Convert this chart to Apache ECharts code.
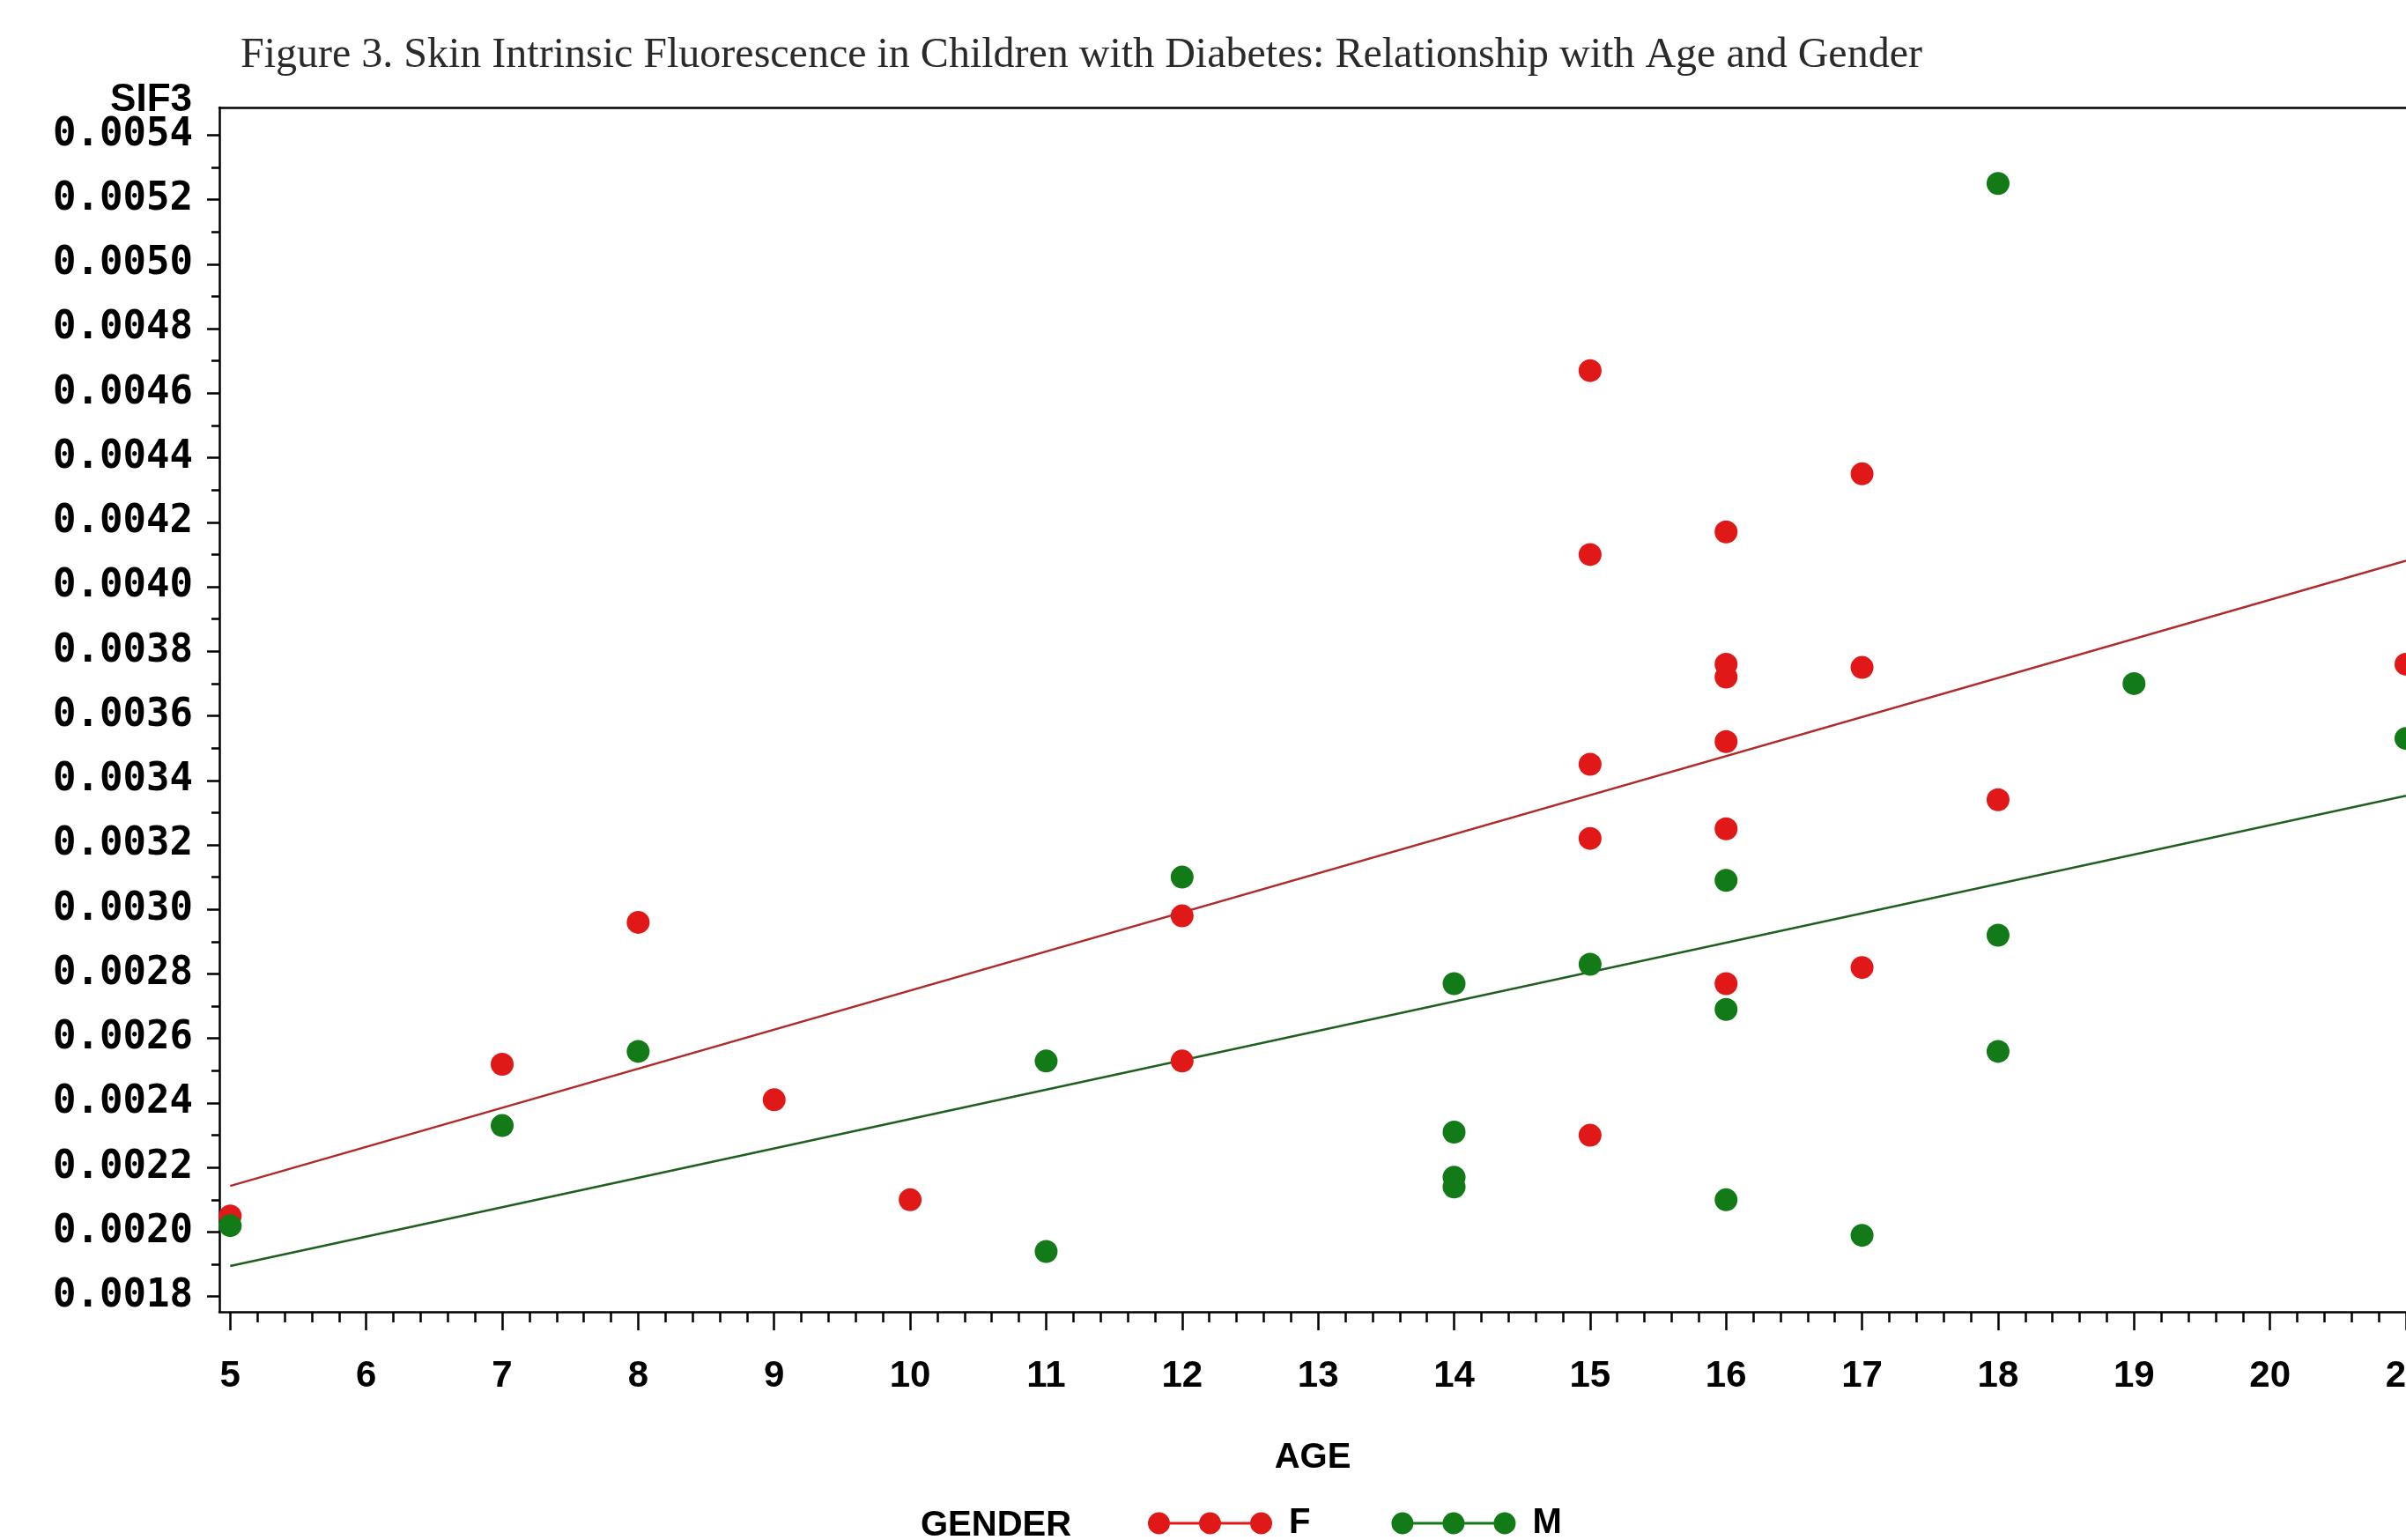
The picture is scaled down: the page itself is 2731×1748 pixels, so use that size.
<!DOCTYPE html>
<html>
<head>
<meta charset="utf-8">
<script src="https://cdn.jsdelivr.net/npm/echarts@6/dist/echarts.min.js"></script>
<style>
html,body{margin:0;padding:0;background:#fff;overflow:hidden;width:2731px;height:1748px;}
#chart{position:absolute;left:0;top:0;width:2731px;height:1748px;}
</style>
</head>
<body>
<div id="chart"></div>
<script>
// ---- data ----
const titleText = 'Figure 3. Skin Intrinsic Fluorescence in Children with Diabetes: Relationship with Age and Gender';
const ageTicks = [5,6,7,8,9,10,11,12,13,14,15,16,17,18,19,20,21];
const sifTicks = [0.0018,0.0020,0.0022,0.0024,0.0026,0.0028,0.0030,0.0032,0.0034,0.0036,0.0038,0.0040,0.0042,0.0044,0.0046,0.0048,0.0050,0.0052,0.0054];

const femaleAge = [5, 7, 8, 9, 10, 12, 12, 15, 15, 15, 15, 15, 16, 16, 16, 16, 16, 16, 17, 17, 17, 18, 21];
const femaleSif = [0.00205, 0.00252, 0.00296, 0.00241, 0.00210, 0.00298, 0.00253, 0.00467, 0.00410, 0.00345, 0.00322, 0.00230, 0.00417, 0.00376, 0.00372, 0.00352, 0.00325, 0.00277, 0.00435, 0.00375, 0.00282, 0.00334, 0.00376];

const maleAge = [5, 7, 8, 11, 11, 12, 14, 14, 14, 14, 15, 16, 16, 16, 17, 18, 18, 18, 19, 21];
const maleSif = [0.00202, 0.00233, 0.00256, 0.00253, 0.00194, 0.00310, 0.00277, 0.00231, 0.00217, 0.00214, 0.00283, 0.00309, 0.00269, 0.00210, 0.00199, 0.00525, 0.00292, 0.00256, 0.00370, 0.00353];

const femaleFitAge = [5, 21];
const femaleFitSif = [0.002143, 0.004081];
const maleFitAge = [5, 21];
const maleFitSif = [0.001895, 0.003352];

// ---- build ----
const pairs = (xs, ys) => xs.map((x, i) => [x, ys[i]]);
const ageMinor = [];
for (let i = 0; i < ageTicks.length - 1; i++) {
  for (let k = 1; k < 5; k++) ageMinor.push(ageTicks[i] + k * (ageTicks[i + 1] - ageTicks[i]) / 5);
}
const sifMinor = [];
for (let i = 0; i < sifTicks.length - 1; i++) sifMinor.push((sifTicks[i] + sifTicks[i + 1]) / 2);

const X_MIN = 4.9203, X_MAX = 21;
const Y_MIN = 0.0017528, Y_MAX = 0.0054855;
const RED = '#e01818', GREEN = '#127a16';
const axisColor = '#000';
const legendIcon = 'path://M0,12.5A12.5,12.5 0 1,1 25,12.5A12.5,12.5 0 1,1 0,12.5Z' +
  'M58,12.5A12.5,12.5 0 1,1 83,12.5A12.5,12.5 0 1,1 58,12.5Z' +
  'M116,12.5A12.5,12.5 0 1,1 141,12.5A12.5,12.5 0 1,1 116,12.5Z' +
  'M25,11L58,11L58,14L25,14Z M83,11L116,11L116,14L83,14Z';

const chart = echarts.init(document.getElementById('chart'), null, { width: 2731, height: 1748 });
chart.setOption({
  backgroundColor: '#fff',
  animation: false,
  title: {
    text: titleText,
    left: 268, top: 34,
    textStyle: { fontFamily: 'Liberation Serif', fontWeight: 'normal', fontSize: 48, color: '#2a2a2a' }
  },
  grid: { left: 249, top: 122, right: 0, bottom: 259, containLabel: false, outerBoundsMode: 'none' },
  legend: {
    left: 1298, top: 1704,
    itemWidth: 141, itemHeight: 25, itemGap: 92,
    selectedMode: false,
    data: [{ name: 'F', icon: legendIcon }, { name: 'M', icon: legendIcon }],
    textStyle: { fontFamily: 'Liberation Sans', fontWeight: 'bold', fontSize: 40, color: '#000', padding: [0, 0, 0, 14] }
  },
  graphic: [
    { type: 'text', left: 1045, top: 1712, style: { text: 'GENDER', font: 'bold 40px "Liberation Sans"', fill: '#000' } },
    { type: 'text', right: 2731 - 218, top: 92, style: { text: 'SIF3', font: 'bold 44px "Liberation Sans"', fill: '#000' } }
  ],
  xAxis: [
    {
      type: 'value', min: X_MIN, max: X_MAX, position: 'bottom',
      name: 'AGE', nameLocation: 'middle', nameGap: 146,
      nameTextStyle: { fontFamily: 'Liberation Sans', fontWeight: 'bold', fontSize: 40, color: '#000' },
      axisLine: { show: true, lineStyle: { color: axisColor, width: 2.5 } },
      axisTick: { show: true, inside: false, length: 21, customValues: ageTicks, lineStyle: { color: axisColor, width: 2.5 } },
      axisLabel: { show: true, customValues: ageTicks, margin: 52, fontFamily: 'Liberation Sans', fontWeight: 'bold', fontSize: 42, color: '#000' },
      splitLine: { show: false }
    },
    {
      type: 'value', min: X_MIN, max: X_MAX, position: 'bottom', offset: 0,
      axisLine: { show: false },
      axisTick: { show: true, length: 12, customValues: ageMinor, lineStyle: { color: axisColor, width: 2.5 } },
      axisLabel: { show: false },
      splitLine: { show: false }
    },
    {
      type: 'value', min: X_MIN, max: X_MAX, position: 'top', offset: 0,
      axisLine: { show: true, lineStyle: { color: axisColor, width: 2.5 } },
      axisTick: { show: false }, axisLabel: { show: false }, splitLine: { show: false }
    }
  ],
  yAxis: [
    {
      type: 'value', min: Y_MIN, max: Y_MAX, position: 'left',
      axisLine: { show: true, lineStyle: { color: axisColor, width: 2.5 } },
      axisTick: { show: true, length: 14, customValues: sifTicks, lineStyle: { color: axisColor, width: 2.5 } },
      axisLabel: {
        show: true, customValues: sifTicks, margin: 30,
        formatter: v => v.toFixed(4),
        fontFamily: 'DejaVu Sans Mono', fontWeight: 'bold', fontSize: 44, color: '#000'
      },
      splitLine: { show: false }
    },
    {
      type: 'value', min: Y_MIN, max: Y_MAX, position: 'left', offset: 0,
      axisLine: { show: false },
      axisTick: { show: true, length: 9, customValues: sifMinor, lineStyle: { color: axisColor, width: 2.5 } },
      axisLabel: { show: false }, splitLine: { show: false }
    }
  ],
  series: [
    {
      name: 'F fit', type: 'line', xAxisIndex: 0, yAxisIndex: 0,
      data: pairs(femaleFitAge, femaleFitSif), showSymbol: false, symbol: 'none',
      lineStyle: { color: '#b02a2a', width: 2.5 }, z: 2, silent: true
    },
    {
      name: 'M fit', type: 'line', xAxisIndex: 0, yAxisIndex: 0,
      data: pairs(maleFitAge, maleFitSif), showSymbol: false, symbol: 'none',
      lineStyle: { color: '#1e5e1e', width: 2.5 }, z: 2, silent: true
    },
    {
      name: 'F', type: 'scatter', xAxisIndex: 0, yAxisIndex: 0,
      data: pairs(femaleAge, femaleSif), symbol: 'circle', symbolSize: 26,
      itemStyle: { color: RED, opacity: 1 }, z: 3
    },
    {
      name: 'M', type: 'scatter', xAxisIndex: 0, yAxisIndex: 0,
      data: pairs(maleAge, maleSif), symbol: 'circle', symbolSize: 26,
      itemStyle: { color: GREEN, opacity: 1 }, z: 3
    }
  ]
});
</script>
</body>
</html>
